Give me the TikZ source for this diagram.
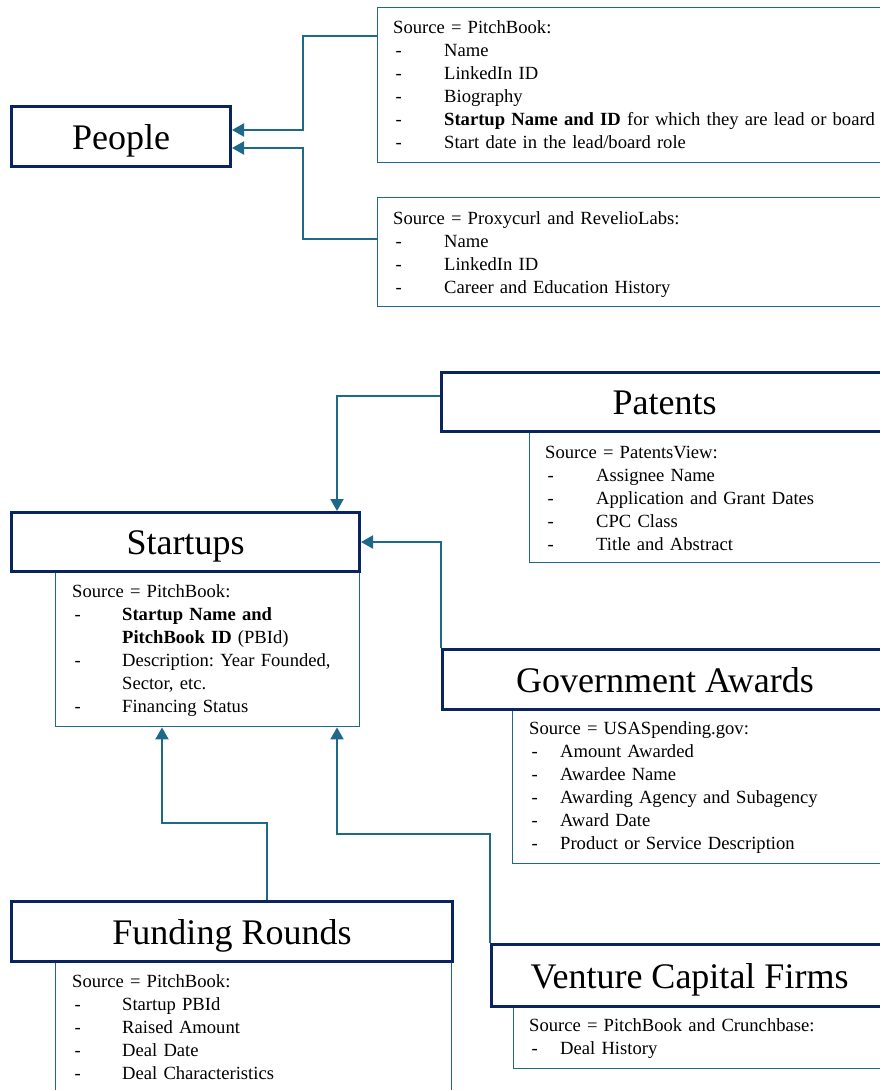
\documentclass[tikz,border=0pt]{standalone}
\usepackage{fontspec}
\setmainfont{Liberation Serif}
\usetikzlibrary{arrows.meta}
\definecolor{navy}{RGB}{10,36,96}
\definecolor{linkblue}{RGB}{30,104,138}
% one list entry: a hyphen followed by the item text at a fixed indent
\newcommand\srcitem[2][51bp]{\makebox[#1][l]{\hspace{2.5bp}-}#2}
\begin{document}
\frenchspacing
\begin{tikzpicture}[x=1bp,y=-1bp,
  titlebox/.style={draw=navy, line width=3bp, fill=white, anchor=north west,
    inner sep=0pt, font=\fontsize{36bp}{40bp}\selectfont,
    text height=25bp, text depth=0bp},
  srcbox/.style={draw=linkblue, line width=1.4bp, fill=white,
    anchor=north west, inner sep=0pt},
  srctext/.style={anchor=base west, inner sep=0pt, text width=600bp,
    align=left, font=\fontsize{18.6bp}{23bp}\selectfont},
  link/.style={draw=linkblue, line width=2bp,
    -{Triangle[length=12bp,width=13bp]}},
]
\useasboundingbox (0,0) rectangle (880,1090);
\clip (0,0) rectangle (880,1090);

% source boxes
\node[srcbox, minimum width=520bp, minimum height=155bp] (pbppl) at (377,7) {};
\node[srcbox, minimum width=520bp, minimum height=109bp] (pcppl) at (377,197) {};
\node[srcbox, minimum width=304bp, minimum height=155bp] (stsrc) at (55,571) {};
\node[srcbox, minimum width=370bp, minimum height=132bp] (patsrc) at (529,430) {};
\node[srcbox, minimum width=380bp, minimum height=155bp] (govsrc) at (512,708) {};
\node[srcbox, minimum width=396bp, minimum height=140bp] (fundsrc) at (55,960) {};
\node[srcbox, minimum width=380bp, minimum height=63bp] (vcsrc) at (513,1005) {};

% entity boxes
\node[titlebox, minimum width=219bp, minimum height=60bp] (people) at (10,105) {People};
\node[titlebox, minimum width=348bp, minimum height=59bp] (startups) at (10,511) {Startups};
\node[titlebox, minimum width=446bp, minimum height=59bp] (patents) at (440,371) {Patents};
\node[titlebox, minimum width=445bp, minimum height=60bp] (gov) at (441,648) {Government Awards};
\node[titlebox, minimum width=441bp, minimum height=60bp] (funding) at (10,900) {Funding Rounds};
\node[titlebox, minimum width=396bp, minimum height=62bp] (vc) at (490,943) {Venture Capital Firms};

% source contents
\node[srctext] (pbpplT) at (393,33) {Source = PitchBook:\\
  \srcitem{Name}\\
  \srcitem{LinkedIn ID}\\
  \srcitem{Biography}\\
  \srcitem{\textbf{Startup Name and ID} for which they are lead or board}\\
  \srcitem{Start date in the lead/board role}};
\node[srctext] (pcpplT) at (393,224) {Source = Proxycurl and RevelioLabs:\\
  \srcitem{Name}\\
  \srcitem{LinkedIn ID}\\
  \srcitem{Career and Education History}};
\node[srctext] (stsrcT) at (72,597) {Source = PitchBook:\\
  \srcitem[50bp]{\textbf{Startup Name and}}\\
  \hspace*{50bp}\textbf{PitchBook ID} (PBId)\\
  \srcitem[50bp]{Description: Year Founded,}\\
  \hspace*{50bp}Sector, etc.\\
  \srcitem[50bp]{Financing Status}};
\node[srctext] (patsrcT) at (545,458) {Source = PatentsView:\\
  \srcitem{Assignee Name}\\
  \srcitem{Application and Grant Dates}\\
  \srcitem{CPC Class}\\
  \srcitem{Title and Abstract}};
\node[srctext] (govsrcT) at (529,734) {Source = USASpending.gov:\\
  \srcitem[31bp]{Amount Awarded}\\
  \srcitem[31bp]{Awardee Name}\\
  \srcitem[31bp]{Awarding Agency and Subagency}\\
  \srcitem[31bp]{Award Date}\\
  \srcitem[31bp]{Product or Service Description}};
\node[srctext] (fundsrcT) at (72,987) {Source = PitchBook:\\
  \srcitem[50bp]{Startup PBId}\\
  \srcitem[50bp]{Raised Amount}\\
  \srcitem[50bp]{Deal Date}\\
  \srcitem[50bp]{Deal Characteristics}};
\node[srctext] (vcsrcT) at (529,1031) {Source = PitchBook and Crunchbase:\\
  \srcitem[31bp]{Deal History}};

% connectors
\draw[link] (pbppl.west |- 0,36) -- (303,36) -- (303,130) -- (people.east |- 0,130);
\draw[link] (pcppl.west |- 0,239) -- (303,239) -- (303,148) -- (people.east |- 0,148);
\draw[link] (patents.west |- 0,396) -| (startups.north -| 337,0);
\draw[link] (gov.north west) |- (startups.east);
\draw[link] (funding.north -| 267,0) -- (267,823) -| (stsrc.south -| 162,0);
\draw[link] (vc.north west) -- (vc.north west |- 0,834) -| (stsrc.south -| 337,0);
\end{tikzpicture}
\end{document}
